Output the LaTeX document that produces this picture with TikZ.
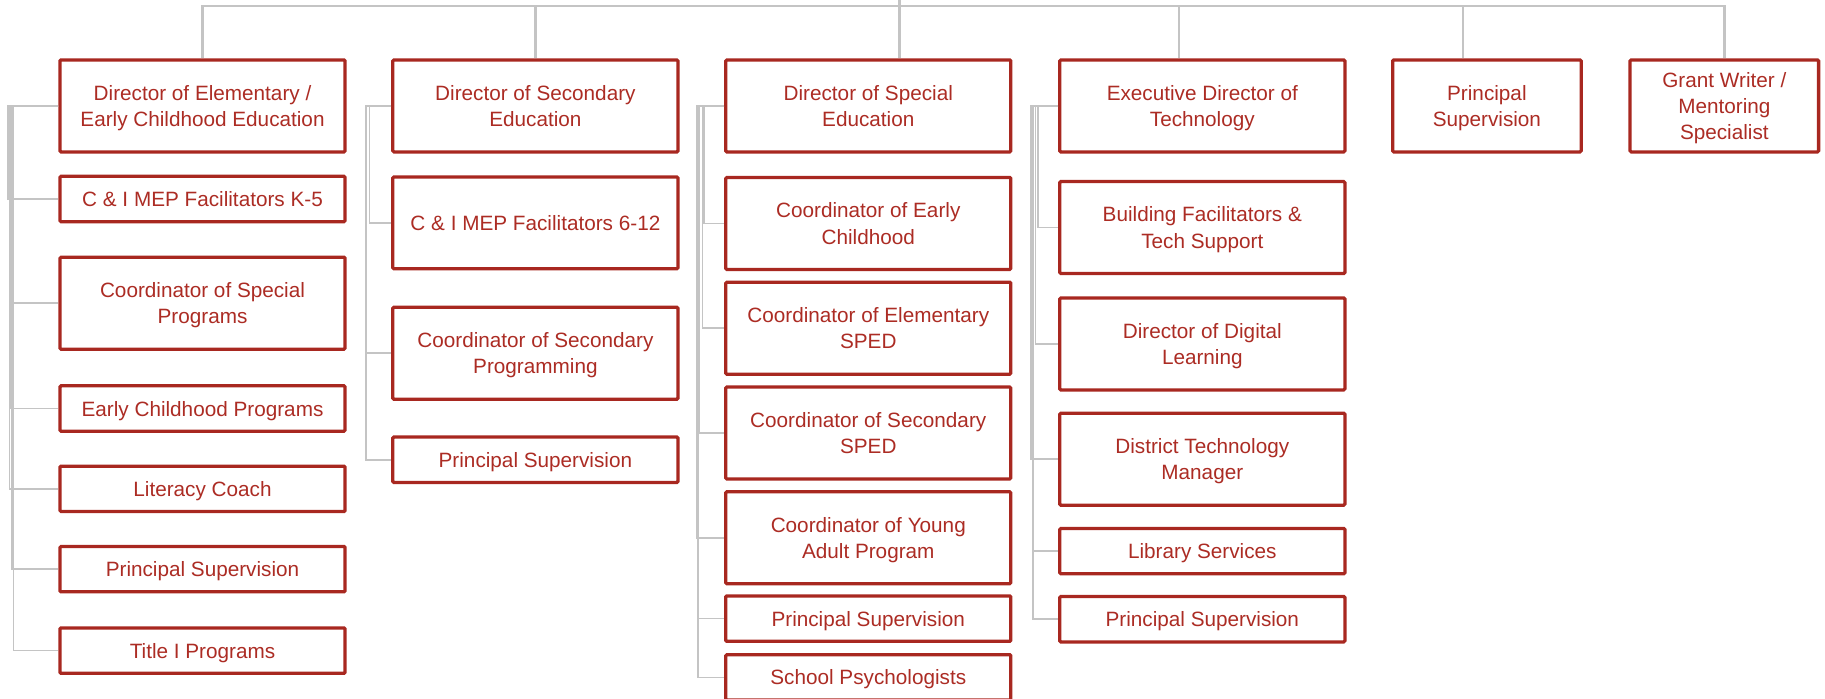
\documentclass[tikz,border=0pt]{standalone}
\usepackage{fontspec}
\setmainfont{Liberation Sans}

\definecolor{boxred}{RGB}{168,40,32}
\definecolor{textred}{RGB}{172,44,36}
\definecolor{linegray}{RGB}{196,196,196}

\tikzset{
  box/.style={draw=boxred, line width=2.8pt, rounded corners=1pt, fill=white,
    text=textred, align=center, inner sep=0pt, text depth=0pt, minimum width=245pt,
    font=\fontsize{17.8}{22.5}\selectfont},
  tall/.style={box, minimum height=79pt},
  short/.style={box, minimum height=39pt},
  narrow/.style={box, minimum width=162pt, minimum height=79pt},
  tree/.style={draw=linegray, line width=2.4pt},
  branch/.style={draw=linegray, line width=1.4pt},
}

\begin{document}
\begin{tikzpicture}[x=1pt, y=-1pt]
    \useasboundingbox (0,0) rectangle (1568,600);

    % Top row of directors
    \node[tall] (dirElem) at (174,91) {Director of Elementary /\\Early Childhood Education};
    \node[tall] (dirSec) at (460,91) {Director of Secondary\\Education};
    \node[tall] (dirSped) at (746,91) {Director of Special\\Education};
    \node[tall] (dirTech) at (1033,91) {Executive Director of\\Technology};
    \node[narrow] (prinSup) at (1277.5,91) {Principal\\Supervision};
    \node[narrow] (grant) at (1481.5,91) {Grant Writer /\\Mentoring\\Specialist};

    % Elementary column
    \node[short] (elemK5) at (174,171) {C \& I MEP Facilitators K-5};
    \node[tall] (elemSpec) at (174,260.5) {Coordinator of Special\\Programs};
    \node[short] (elemEarly) at (174,351) {Early Childhood Programs};
    \node[short] (elemLit) at (174,420) {Literacy Coach};
    \node[short] (elemPrin) at (174,489) {Principal Supervision};
    \node[short] (elemTitle) at (174,559) {Title I Programs};

    % Secondary column
    \node[tall] (secMep) at (460,191.5) {C \& I MEP Facilitators 6-12};
    \node[tall] (secProg) at (460,303.5) {Coordinator of Secondary\\Programming};
    \node[short] (secPrin) at (460,395) {Principal Supervision};

    % Special education column
    \node[tall] (spedEarly) at (746,192) {Coordinator of Early\\Childhood};
    \node[tall] (spedElem) at (746,282) {Coordinator of Elementary\\SPED};
    \node[tall] (spedSec) at (746,372) {Coordinator of Secondary\\SPED};
    \node[tall] (spedYoung) at (746,462) {Coordinator of Young\\Adult Program};
    \node[short] (spedPrin) at (746,531.5) {Principal Supervision};
    \node[short] (spedPsych) at (746,582) {School Psychologists};

    % Technology column
    \node[tall] (techBldg) at (1033,195.5) {Building Facilitators \&\\Tech Support};
    \node[tall] (techDig) at (1033,295.5) {Director of Digital\\Learning};
    \node[tall] (techMgr) at (1033,394.5) {District Technology\\Manager};
    \node[short] (techLib) at (1033,473.5) {Library Services};
    \node[short] (techPrin) at (1033,532) {Principal Supervision};

    % Bus across the top
    \coordinate (root) at (773,-10);
    \draw[tree] (dirElem.north) -- ++(0,-45) -| (grant.north);
    \draw[tree] (root) -- ([xshift=27]dirSped.north);
    \draw[tree] (dirSec.north) -- ++(0,-45);
    \draw[tree] ([xshift=-20]dirTech.north) -- ++(0,-45);
    \draw[tree] ([xshift=-20.5]prinSup.north) -- ++(0,-45);

    % Elbows from each director down to its staff
    \foreach \kid/\dx in {elemK5/43, elemSpec/42, elemEarly/41, elemLit/42, elemPrin/40, elemTitle/38.5}
        \draw[branch] (dirElem.west) -- ++(-\dx,0) |- (\kid.west);
    \foreach \kid/\dx in {secMep/18.5, secProg/21.5, secPrin/21.5}
        \draw[branch] (dirSec.west) -- ++(-\dx,0) |- (\kid.west);
    \foreach \kid/\dx in {spedEarly/17.5, spedElem/18.5, spedSec/21.5, spedYoung/23.5, spedPrin/22.5, spedPsych/22.5}
        \draw[branch] (dirSped.west) -- ++(-\dx,0) |- (\kid.west);
    \foreach \kid/\dx in {techBldg/17.5, techDig/19.5, techMgr/23.5, techLib/21.5, techPrin/21.5}
        \draw[branch] (dirTech.west) -- ++(-\dx,0) |- (\kid.west);
\end{tikzpicture}
\end{document}
